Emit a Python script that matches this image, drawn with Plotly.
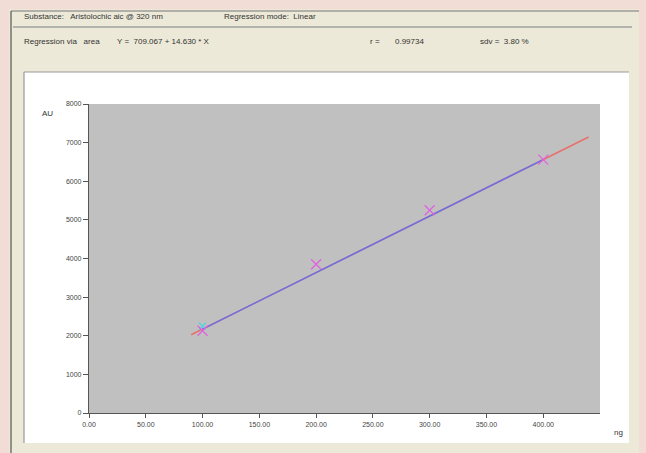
import plotly.graph_objects as go

# ---- data ----
amount_ng = [100, 200, 300, 400]
area_au = [2130, 3850, 5250, 6560]
fit_x = [100, 400]
fit_y = [2172, 6561]
ext_x = [90, 440]
ext_y = [2026, 7146]
ref_x = [100]
ref_y = [2250]
x_ticks = [0, 50, 100, 150, 200, 250, 300, 350, 400]
x_tick_labels = ["0.00", "50.00", "100.00", "150.00", "200.00", "250.00", "300.00", "350.00", "400.00"]
y_ticks = [0, 1000, 2000, 3000, 4000, 5000, 6000, 7000, 8000]
y_tick_labels = ["0", "1000", "2000", "3000", "4000", "5000", "6000", "7000", "8000"]

W, H = 646, 453
L, R, T, B = 89, 600, 104, 413


def px(x):
    return (x - L) / (R - L)


def py(y):
    return (B - y) / (B - T)


fig = go.Figure()
fig.add_trace(go.Scatter(x=ext_x, y=ext_y, mode="lines",
                         line=dict(color="#e8706a", width=1.5), hoverinfo="skip"))
fig.add_trace(go.Scatter(x=fit_x, y=fit_y, mode="lines",
                         line=dict(color="#6870e8", width=1.5), hoverinfo="skip"))
fig.add_trace(go.Scatter(x=ref_x, y=ref_y, mode="markers",
                         marker=dict(symbol="x-thin", size=7, line=dict(color="#40d8e0", width=1.2))))
fig.add_trace(go.Scatter(x=amount_ng, y=area_au, mode="markers",
                         marker=dict(symbol="x-thin", size=10, line=dict(color="#e060e0", width=1.2))))

shapes = [
    # beige window
    dict(type="rect", xref="paper", yref="paper", x0=px(9), x1=px(639), y0=py(9), y1=py(460),
         fillcolor="#ece9d8", line=dict(width=0), layer="below"),
    dict(type="line", xref="paper", yref="paper", x0=px(11), x1=px(639), y0=py(11), y1=py(11),
         line=dict(color="#777777", width=1.2), layer="below"),
    dict(type="line", xref="paper", yref="paper", x0=px(11), x1=px(11), y0=py(11), y1=py(460),
         line=dict(color="#555555", width=1.2), layer="below"),
    dict(type="line", xref="paper", yref="paper", x0=px(13), x1=px(632), y0=py(27), y1=py(27),
         line=dict(color="#a0a0a0", width=1.5), layer="below"),
    # white chart panel
    dict(type="rect", xref="paper", yref="paper", x0=px(24), x1=px(629), y0=py(72), y1=py(443),
         fillcolor="#ffffff", line=dict(width=0), layer="below"),
    dict(type="line", xref="paper", yref="paper", x0=px(24), x1=px(629), y0=py(72), y1=py(72),
         line=dict(color="#999999", width=1.2), layer="below"),
    dict(type="line", xref="paper", yref="paper", x0=px(24), x1=px(24), y0=py(72), y1=py(443),
         line=dict(color="#999999", width=1.2), layer="below"),
    # gray plotting area
    dict(type="rect", xref="paper", yref="paper", x0=0, x1=1, y0=0, y1=1,
         fillcolor="#c0c0c0", line=dict(width=0), layer="below"),
]

font = dict(family="Liberation Sans, Arial, sans-serif", size=8, color="#333333")
texts = [
    (22, 17, "Substance:   Aristolochic aic @ 320 nm"),
    (222, 17, "Regression mode:  Linear"),
    (22, 41, "Regression via   area"),
    (115, 41, "Y =  709.067 + 14.630 * X"),
    (368, 41, "r ="),
    (393, 41, "0.99734"),
    (478, 41, "sdv =  3.80 %"),
    (40, 113, "AU"),
    (612, 433, "ng"),
]
annotations = [dict(xref="paper", yref="paper", x=px(x), y=py(y), text=t, showarrow=False,
                    xanchor="left", yanchor="middle", font=font) for x, y, t in texts]

tickfont = dict(family="Liberation Sans, Arial, sans-serif", size=7, color="#444444")
fig.update_layout(
    width=W, height=H,
    margin=dict(l=L, r=W - R, t=T, b=H - B, pad=0),
    paper_bgcolor="#f1ddd6",
    plot_bgcolor="#c0c0c0",
    showlegend=False,
    shapes=shapes,
    annotations=annotations,
    xaxis=dict(range=[0, 450], tickvals=x_ticks, ticktext=x_tick_labels, showgrid=False,
               zeroline=False, showline=True, linecolor="#555555", linewidth=1.2,
               ticks="outside", ticklen=4, tickcolor="#555555", tickfont=tickfont),
    yaxis=dict(range=[0, 8000], tickvals=y_ticks, ticktext=y_tick_labels, showgrid=False,
               zeroline=False, showline=True, linecolor="#555555", linewidth=1.2,
               ticks="outside", ticklen=5, tickcolor="#555555", tickfont=tickfont),
)

fig.write_html("out.html", config={"displayModeBar": False},
               post_script="document.body.style.margin='0';document.body.style.background='#f1ddd6';")
